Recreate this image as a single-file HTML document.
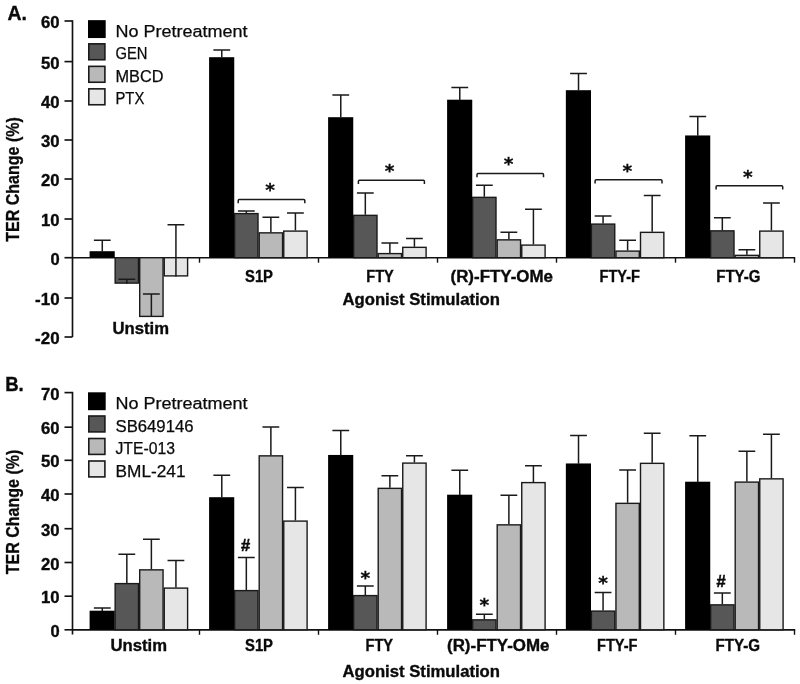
<!DOCTYPE html>
<html><head><meta charset="utf-8"><title>TER Change</title>
<style>
html,body{margin:0;padding:0;background:#fff}
svg{display:block}
text{font-family:"Liberation Sans",sans-serif;fill:#0a0a0a}
.tk,.pl,.yt,.ct{stroke:#0a0a0a;stroke-width:0.35px}
.tk{font-size:16.8px;font-weight:bold}
.lg{font-size:16px}
.pl{font-size:19.5px;font-weight:bold}
.yt{font-size:18.5px;font-weight:bold;stroke:#0a0a0a;stroke-width:0.3px}
.ct{font-size:15.8px;font-weight:bold}
.st{font-family:"DejaVu Sans","Liberation Sans",sans-serif;font-size:18.5px;font-weight:bold;stroke:#0a0a0a;stroke-width:0.3px}
.hs{font-size:16.5px;font-weight:bold;stroke:#0a0a0a;stroke-width:0.5px}
.lg{stroke:#0a0a0a;stroke-width:0.25px}
</style></head><body>
<svg width="800" height="684" viewBox="0 0 800 684">
<rect width="800" height="684" fill="#fff"/>
<path d="M72.5 20.25V337.00" stroke="#111" stroke-width="1.65" fill="none"/>
<path d="M72 257.70H795.2" stroke="#111" stroke-width="1.65" fill="none"/>
<path d="M199.50 257.70v5" stroke="#111" stroke-width="1.4" fill="none"/>
<path d="M318.50 257.70v5" stroke="#111" stroke-width="1.4" fill="none"/>
<path d="M437.50 257.70v5" stroke="#111" stroke-width="1.4" fill="none"/>
<path d="M556.50 257.70v5" stroke="#111" stroke-width="1.4" fill="none"/>
<path d="M675.50 257.70v5" stroke="#111" stroke-width="1.4" fill="none"/>
<path d="M794.50 257.70v5" stroke="#111" stroke-width="1.4" fill="none"/>
<path d="M64.5 337.00H72.5" stroke="#111" stroke-width="1.65" fill="none"/>
<text x="59.6" y="344.00" text-anchor="end" class="tk" textLength="24.5" lengthAdjust="spacingAndGlyphs">-20</text>
<path d="M64.5 298.00H72.5" stroke="#111" stroke-width="1.65" fill="none"/>
<text x="59.6" y="305.00" text-anchor="end" class="tk" textLength="24.5" lengthAdjust="spacingAndGlyphs">-10</text>
<path d="M64.5 257.70H72.5" stroke="#111" stroke-width="1.65" fill="none"/>
<text x="59.6" y="264.70" text-anchor="end" class="tk" textLength="9.2" lengthAdjust="spacingAndGlyphs">0</text>
<path d="M64.5 219.00H72.5" stroke="#111" stroke-width="1.65" fill="none"/>
<text x="59.6" y="226.00" text-anchor="end" class="tk" textLength="18.6" lengthAdjust="spacingAndGlyphs">10</text>
<path d="M64.5 179.00H72.5" stroke="#111" stroke-width="1.65" fill="none"/>
<text x="59.6" y="186.00" text-anchor="end" class="tk" textLength="18.6" lengthAdjust="spacingAndGlyphs">20</text>
<path d="M64.5 140.00H72.5" stroke="#111" stroke-width="1.65" fill="none"/>
<text x="59.6" y="147.00" text-anchor="end" class="tk" textLength="18.6" lengthAdjust="spacingAndGlyphs">30</text>
<path d="M64.5 101.00H72.5" stroke="#111" stroke-width="1.65" fill="none"/>
<text x="59.6" y="108.00" text-anchor="end" class="tk" textLength="18.6" lengthAdjust="spacingAndGlyphs">40</text>
<path d="M64.5 61.60H72.5" stroke="#111" stroke-width="1.65" fill="none"/>
<text x="59.6" y="68.60" text-anchor="end" class="tk" textLength="18.6" lengthAdjust="spacingAndGlyphs">50</text>
<path d="M64.5 21.00H72.5" stroke="#111" stroke-width="1.65" fill="none"/>
<text x="59.6" y="28.00" text-anchor="end" class="tk" textLength="18.6" lengthAdjust="spacingAndGlyphs">60</text>
<rect x="89.60" y="251.20" width="25.150000000000002" height="6.50" fill="#000"/>
<path d="M102.28 251.50V240.25M93.88 240.25H110.68" stroke="#1a1a1a" stroke-width="1.5" fill="none"/>
<rect x="115.15" y="257.70" width="23.35" height="25.40" fill="#575757" stroke="#1a1a1a" stroke-width="1.4"/>
<path d="M126.83 283.70V279.30M118.42 279.30H135.22" stroke="#1a1a1a" stroke-width="1.5" fill="none"/>
<rect x="139.70" y="257.70" width="23.35" height="58.70" fill="#b9b9b9" stroke="#1a1a1a" stroke-width="1.4"/>
<path d="M151.38 317.00V294.00M142.97 294.00H159.78" stroke="#1a1a1a" stroke-width="1.5" fill="none"/>
<rect x="164.25" y="257.70" width="23.35" height="18.20" fill="#e6e6e6" stroke="#1a1a1a" stroke-width="1.4"/>
<path d="M175.93 276.50V224.75M167.53 224.75H184.33" stroke="#1a1a1a" stroke-width="1.5" fill="none"/>
<rect x="209.10" y="57.20" width="25.150000000000002" height="200.50" fill="#000"/>
<path d="M221.78 57.50V50.00M213.38 50.00H230.18" stroke="#1a1a1a" stroke-width="1.5" fill="none"/>
<rect x="234.65" y="213.60" width="23.35" height="44.10" fill="#575757" stroke="#1a1a1a" stroke-width="1.4"/>
<path d="M246.33 213.00V211.00M237.93 211.00H254.73" stroke="#1a1a1a" stroke-width="1.5" fill="none"/>
<rect x="259.20" y="232.85" width="23.35" height="24.85" fill="#b9b9b9" stroke="#1a1a1a" stroke-width="1.4"/>
<path d="M270.88 232.25V217.25M262.48 217.25H279.27" stroke="#1a1a1a" stroke-width="1.5" fill="none"/>
<rect x="283.75" y="231.10" width="23.35" height="26.60" fill="#e6e6e6" stroke="#1a1a1a" stroke-width="1.4"/>
<path d="M295.42 230.50V213.00M287.02 213.00H303.82" stroke="#1a1a1a" stroke-width="1.5" fill="none"/>
<rect x="328.10" y="117.20" width="25.150000000000002" height="140.50" fill="#000"/>
<path d="M340.77 117.50V95.00M332.38 95.00H349.17" stroke="#1a1a1a" stroke-width="1.5" fill="none"/>
<rect x="353.65" y="215.35" width="23.35" height="42.35" fill="#575757" stroke="#1a1a1a" stroke-width="1.4"/>
<path d="M365.32 214.75V193.00M356.93 193.00H373.72" stroke="#1a1a1a" stroke-width="1.5" fill="none"/>
<rect x="378.20" y="253.60" width="23.35" height="4.10" fill="#b9b9b9" stroke="#1a1a1a" stroke-width="1.4"/>
<path d="M389.88 253.00V243.00M381.48 243.00H398.27" stroke="#1a1a1a" stroke-width="1.5" fill="none"/>
<rect x="402.75" y="247.35" width="23.35" height="10.35" fill="#e6e6e6" stroke="#1a1a1a" stroke-width="1.4"/>
<path d="M414.42 246.75V238.50M406.02 238.50H422.82" stroke="#1a1a1a" stroke-width="1.5" fill="none"/>
<rect x="447.10" y="99.70" width="25.150000000000002" height="158.00" fill="#000"/>
<path d="M459.77 100.00V87.50M451.38 87.50H468.17" stroke="#1a1a1a" stroke-width="1.5" fill="none"/>
<rect x="472.65" y="197.35" width="23.35" height="60.35" fill="#575757" stroke="#1a1a1a" stroke-width="1.4"/>
<path d="M484.32 196.75V185.25M475.93 185.25H492.72" stroke="#1a1a1a" stroke-width="1.5" fill="none"/>
<rect x="497.20" y="239.85" width="23.35" height="17.85" fill="#b9b9b9" stroke="#1a1a1a" stroke-width="1.4"/>
<path d="M508.88 239.25V232.25M500.48 232.25H517.27" stroke="#1a1a1a" stroke-width="1.5" fill="none"/>
<rect x="521.75" y="245.10" width="23.35" height="12.60" fill="#e6e6e6" stroke="#1a1a1a" stroke-width="1.4"/>
<path d="M533.42 244.50V209.25M525.02 209.25H541.82" stroke="#1a1a1a" stroke-width="1.5" fill="none"/>
<rect x="565.85" y="90.20" width="25.150000000000002" height="167.50" fill="#000"/>
<path d="M578.52 90.50V73.50M570.12 73.50H586.92" stroke="#1a1a1a" stroke-width="1.5" fill="none"/>
<rect x="591.40" y="224.10" width="23.35" height="33.60" fill="#575757" stroke="#1a1a1a" stroke-width="1.4"/>
<path d="M603.07 223.50V216.00M594.67 216.00H611.47" stroke="#1a1a1a" stroke-width="1.5" fill="none"/>
<rect x="615.95" y="251.10" width="23.35" height="6.60" fill="#b9b9b9" stroke="#1a1a1a" stroke-width="1.4"/>
<path d="M627.62 250.50V240.25M619.23 240.25H636.02" stroke="#1a1a1a" stroke-width="1.5" fill="none"/>
<rect x="640.50" y="232.35" width="23.35" height="25.35" fill="#e6e6e6" stroke="#1a1a1a" stroke-width="1.4"/>
<path d="M652.17 231.75V195.50M643.77 195.50H660.57" stroke="#1a1a1a" stroke-width="1.5" fill="none"/>
<rect x="685.10" y="135.45" width="25.150000000000002" height="122.25" fill="#000"/>
<path d="M697.77 135.75V116.50M689.38 116.50H706.17" stroke="#1a1a1a" stroke-width="1.5" fill="none"/>
<rect x="710.65" y="230.85" width="23.35" height="26.85" fill="#575757" stroke="#1a1a1a" stroke-width="1.4"/>
<path d="M722.32 230.25V217.75M713.92 217.75H730.72" stroke="#1a1a1a" stroke-width="1.5" fill="none"/>
<rect x="735.20" y="255.35" width="23.35" height="2.35" fill="#b9b9b9" stroke="#1a1a1a" stroke-width="1.4"/>
<path d="M746.88 254.75V249.75M738.48 249.75H755.27" stroke="#1a1a1a" stroke-width="1.5" fill="none"/>
<rect x="759.75" y="231.10" width="23.35" height="26.60" fill="#e6e6e6" stroke="#1a1a1a" stroke-width="1.4"/>
<path d="M771.42 230.50V203.00M763.02 203.00H779.82" stroke="#1a1a1a" stroke-width="1.5" fill="none"/>
<path d="M238.2 203.3V200.5Q238.2 199.5 239.2 199.5H303.8Q304.8 199.5 304.8 200.5V203.3" stroke="#1a1a1a" stroke-width="1.5" fill="none"/>
<text x="270" y="196.40" text-anchor="middle" class="st">*</text>
<path d="M358.4 184.05V181.25Q358.4 180.25 359.4 180.25H423.4Q424.4 180.25 424.4 181.25V184.05" stroke="#1a1a1a" stroke-width="1.5" fill="none"/>
<text x="389.5" y="177.30" text-anchor="middle" class="st">*</text>
<path d="M477 177.20000000000002V174.4Q477 173.4 478 173.4H542.5Q543.5 173.4 543.5 174.4V177.20000000000002" stroke="#1a1a1a" stroke-width="1.5" fill="none"/>
<text x="508.6" y="170.40" text-anchor="middle" class="st">*</text>
<path d="M595.1 183.5V180.7Q595.1 179.7 596.1 179.7H661Q662 179.7 662 180.7V183.5" stroke="#1a1a1a" stroke-width="1.5" fill="none"/>
<text x="627.3" y="177.00" text-anchor="middle" class="st">*</text>
<path d="M716.1 189.55V186.75Q716.1 185.75 717.1 185.75H781.7Q782.7 185.75 782.7 186.75V189.55" stroke="#1a1a1a" stroke-width="1.5" fill="none"/>
<text x="747.8" y="182.80" text-anchor="middle" class="st">*</text>
<rect x="88" y="20.15" width="17.7" height="17.9" fill="#000"/>
<text x="115.5" y="36.95" class="lg" textLength="132" lengthAdjust="spacingAndGlyphs">No Pretreatment</text>
<rect x="88.8" y="43.85" width="16.1" height="15.9" fill="#575757" stroke="#1a1a1a" stroke-width="1.6"/>
<text x="115.5" y="59.45" class="lg" textLength="32" lengthAdjust="spacingAndGlyphs">GEN</text>
<rect x="88.8" y="66.35" width="16.1" height="15.9" fill="#b9b9b9" stroke="#1a1a1a" stroke-width="1.6"/>
<text x="115.5" y="81.95" class="lg" textLength="48" lengthAdjust="spacingAndGlyphs">MBCD</text>
<rect x="88.8" y="88.85" width="16.1" height="15.9" fill="#e6e6e6" stroke="#1a1a1a" stroke-width="1.6"/>
<text x="115.5" y="104.45" class="lg" textLength="28.8" lengthAdjust="spacingAndGlyphs">PTX</text>
<rect x="88" y="392.30" width="17.7" height="17.9" fill="#000"/>
<text x="115.5" y="409.10" class="lg" textLength="132" lengthAdjust="spacingAndGlyphs">No Pretreatment</text>
<rect x="88.8" y="416.00" width="16.1" height="15.9" fill="#575757" stroke="#1a1a1a" stroke-width="1.6"/>
<text x="115.5" y="431.60" class="lg" textLength="78" lengthAdjust="spacingAndGlyphs">SB649146</text>
<rect x="88.8" y="438.50" width="16.1" height="15.9" fill="#b9b9b9" stroke="#1a1a1a" stroke-width="1.6"/>
<text x="115.5" y="454.10" class="lg" textLength="59.5" lengthAdjust="spacingAndGlyphs">JTE-013</text>
<rect x="88.8" y="461.00" width="16.1" height="15.9" fill="#e6e6e6" stroke="#1a1a1a" stroke-width="1.6"/>
<text x="115.5" y="476.60" class="lg" textLength="70" lengthAdjust="spacingAndGlyphs">BML-241</text>
<text x="7.6" y="20.4" class="pl" textLength="19.4" lengthAdjust="spacingAndGlyphs">A.</text>
<text x="5.2" y="390.5" class="pl" textLength="18.6" lengthAdjust="spacingAndGlyphs">B.</text>
<text transform="translate(18.8 179.5) rotate(-90)" text-anchor="middle" class="yt" textLength="124.6" lengthAdjust="spacingAndGlyphs">TER Change (%)</text>
<text transform="translate(18.8 512) rotate(-90)" text-anchor="middle" class="yt" textLength="124.6" lengthAdjust="spacingAndGlyphs">TER Change (%)</text>
<text x="112.5" y="333.7" class="ct" textLength="56.5" lengthAdjust="spacingAndGlyphs">Unstim</text>
<text x="245" y="281.5" class="ct" textLength="28" lengthAdjust="spacingAndGlyphs">S1P</text>
<text x="366.25" y="281.5" class="ct" textLength="27.5" lengthAdjust="spacingAndGlyphs">FTY</text>
<text x="450.5" y="281.5" class="ct" textLength="102.5" lengthAdjust="spacingAndGlyphs">(R)-FTY-OMe</text>
<text x="599.5" y="281.5" class="ct" textLength="40.5" lengthAdjust="spacingAndGlyphs">FTY-F</text>
<text x="716.25" y="281.5" class="ct" textLength="44.25" lengthAdjust="spacingAndGlyphs">FTY-G</text>
<text x="110.5" y="651.4" class="ct" textLength="56.5" lengthAdjust="spacingAndGlyphs">Unstim</text>
<text x="245" y="651.4" class="ct" textLength="28" lengthAdjust="spacingAndGlyphs">S1P</text>
<text x="365.5" y="651.4" class="ct" textLength="27.5" lengthAdjust="spacingAndGlyphs">FTY</text>
<text x="447" y="651.4" class="ct" textLength="102.5" lengthAdjust="spacingAndGlyphs">(R)-FTY-OMe</text>
<text x="597" y="651.4" class="ct" textLength="40.5" lengthAdjust="spacingAndGlyphs">FTY-F</text>
<text x="715.5" y="651.4" class="ct" textLength="44.5" lengthAdjust="spacingAndGlyphs">FTY-G</text>
<text x="342.5" y="304.5" class="ct" textLength="157.5" lengthAdjust="spacingAndGlyphs">Agonist Stimulation</text>
<text x="342.5" y="676.5" class="ct" textLength="157.5" lengthAdjust="spacingAndGlyphs">Agonist Stimulation</text>
<path d="M72.5 391.85V634.50" stroke="#111" stroke-width="1.65" fill="none"/>
<path d="M72 629.80H795.2" stroke="#111" stroke-width="1.65" fill="none"/>
<path d="M199.50 629.80v5" stroke="#111" stroke-width="1.4" fill="none"/>
<path d="M318.50 629.80v5" stroke="#111" stroke-width="1.4" fill="none"/>
<path d="M437.50 629.80v5" stroke="#111" stroke-width="1.4" fill="none"/>
<path d="M556.50 629.80v5" stroke="#111" stroke-width="1.4" fill="none"/>
<path d="M675.50 629.80v5" stroke="#111" stroke-width="1.4" fill="none"/>
<path d="M794.50 629.80v5" stroke="#111" stroke-width="1.4" fill="none"/>
<path d="M64.5 629.80H72.5" stroke="#111" stroke-width="1.65" fill="none"/>
<text x="59.6" y="636.80" text-anchor="end" class="tk" textLength="9.2" lengthAdjust="spacingAndGlyphs">0</text>
<path d="M64.5 596.20H72.5" stroke="#111" stroke-width="1.65" fill="none"/>
<text x="59.6" y="603.20" text-anchor="end" class="tk" textLength="18.6" lengthAdjust="spacingAndGlyphs">10</text>
<path d="M64.5 562.50H72.5" stroke="#111" stroke-width="1.65" fill="none"/>
<text x="59.6" y="569.50" text-anchor="end" class="tk" textLength="18.6" lengthAdjust="spacingAndGlyphs">20</text>
<path d="M64.5 528.70H72.5" stroke="#111" stroke-width="1.65" fill="none"/>
<text x="59.6" y="535.70" text-anchor="end" class="tk" textLength="18.6" lengthAdjust="spacingAndGlyphs">30</text>
<path d="M64.5 494.00H72.5" stroke="#111" stroke-width="1.65" fill="none"/>
<text x="59.6" y="501.00" text-anchor="end" class="tk" textLength="18.6" lengthAdjust="spacingAndGlyphs">40</text>
<path d="M64.5 460.30H72.5" stroke="#111" stroke-width="1.65" fill="none"/>
<text x="59.6" y="467.30" text-anchor="end" class="tk" textLength="18.6" lengthAdjust="spacingAndGlyphs">50</text>
<path d="M64.5 427.20H72.5" stroke="#111" stroke-width="1.65" fill="none"/>
<text x="59.6" y="434.20" text-anchor="end" class="tk" textLength="18.6" lengthAdjust="spacingAndGlyphs">60</text>
<path d="M64.5 392.60H72.5" stroke="#111" stroke-width="1.65" fill="none"/>
<text x="59.6" y="399.60" text-anchor="end" class="tk" textLength="18.6" lengthAdjust="spacingAndGlyphs">70</text>
<rect x="89.60" y="610.70" width="25.150000000000002" height="19.10" fill="#000"/>
<path d="M102.28 611.00V608.00M93.88 608.00H110.68" stroke="#1a1a1a" stroke-width="1.5" fill="none"/>
<rect x="115.15" y="583.60" width="23.35" height="46.20" fill="#575757" stroke="#1a1a1a" stroke-width="1.4"/>
<path d="M126.83 583.00V554.25M118.42 554.25H135.22" stroke="#1a1a1a" stroke-width="1.5" fill="none"/>
<rect x="139.70" y="569.85" width="23.35" height="59.95" fill="#b9b9b9" stroke="#1a1a1a" stroke-width="1.4"/>
<path d="M151.38 569.25V539.25M142.97 539.25H159.78" stroke="#1a1a1a" stroke-width="1.5" fill="none"/>
<rect x="164.25" y="588.10" width="23.35" height="41.70" fill="#e6e6e6" stroke="#1a1a1a" stroke-width="1.4"/>
<path d="M175.93 587.50V560.50M167.53 560.50H184.33" stroke="#1a1a1a" stroke-width="1.5" fill="none"/>
<rect x="209.10" y="497.20" width="25.150000000000002" height="132.60" fill="#000"/>
<path d="M221.78 497.50V475.25M213.38 475.25H230.18" stroke="#1a1a1a" stroke-width="1.5" fill="none"/>
<rect x="234.65" y="590.60" width="23.35" height="39.20" fill="#575757" stroke="#1a1a1a" stroke-width="1.4"/>
<path d="M246.33 590.00V557.50M237.93 557.50H254.73" stroke="#1a1a1a" stroke-width="1.5" fill="none"/>
<rect x="259.20" y="455.85" width="23.35" height="173.95" fill="#b9b9b9" stroke="#1a1a1a" stroke-width="1.4"/>
<path d="M270.88 455.25V427.00M262.48 427.00H279.27" stroke="#1a1a1a" stroke-width="1.5" fill="none"/>
<rect x="283.75" y="521.10" width="23.35" height="108.70" fill="#e6e6e6" stroke="#1a1a1a" stroke-width="1.4"/>
<path d="M295.42 520.50V487.50M287.02 487.50H303.82" stroke="#1a1a1a" stroke-width="1.5" fill="none"/>
<rect x="328.10" y="454.95" width="25.150000000000002" height="174.85" fill="#000"/>
<path d="M340.77 455.25V430.50M332.38 430.50H349.17" stroke="#1a1a1a" stroke-width="1.5" fill="none"/>
<rect x="353.65" y="595.60" width="23.35" height="34.20" fill="#575757" stroke="#1a1a1a" stroke-width="1.4"/>
<path d="M365.32 595.00V586.00M356.93 586.00H373.72" stroke="#1a1a1a" stroke-width="1.5" fill="none"/>
<rect x="378.20" y="488.35" width="23.35" height="141.45" fill="#b9b9b9" stroke="#1a1a1a" stroke-width="1.4"/>
<path d="M389.88 487.75V475.75M381.48 475.75H398.27" stroke="#1a1a1a" stroke-width="1.5" fill="none"/>
<rect x="402.75" y="463.10" width="23.35" height="166.70" fill="#e6e6e6" stroke="#1a1a1a" stroke-width="1.4"/>
<path d="M414.42 462.50V455.75M406.02 455.75H422.82" stroke="#1a1a1a" stroke-width="1.5" fill="none"/>
<rect x="447.10" y="494.70" width="25.150000000000002" height="135.10" fill="#000"/>
<path d="M459.77 495.00V470.25M451.38 470.25H468.17" stroke="#1a1a1a" stroke-width="1.5" fill="none"/>
<rect x="472.65" y="619.85" width="23.35" height="9.95" fill="#575757" stroke="#1a1a1a" stroke-width="1.4"/>
<path d="M484.32 619.25V614.25M475.93 614.25H492.72" stroke="#1a1a1a" stroke-width="1.5" fill="none"/>
<rect x="497.20" y="524.85" width="23.35" height="104.95" fill="#b9b9b9" stroke="#1a1a1a" stroke-width="1.4"/>
<path d="M508.88 524.25V495.25M500.48 495.25H517.27" stroke="#1a1a1a" stroke-width="1.5" fill="none"/>
<rect x="521.75" y="482.60" width="23.35" height="147.20" fill="#e6e6e6" stroke="#1a1a1a" stroke-width="1.4"/>
<path d="M533.42 482.00V465.75M525.02 465.75H541.82" stroke="#1a1a1a" stroke-width="1.5" fill="none"/>
<rect x="565.85" y="463.45" width="25.150000000000002" height="166.35" fill="#000"/>
<path d="M578.52 463.75V435.50M570.12 435.50H586.92" stroke="#1a1a1a" stroke-width="1.5" fill="none"/>
<rect x="591.40" y="611.10" width="23.35" height="18.70" fill="#575757" stroke="#1a1a1a" stroke-width="1.4"/>
<path d="M603.07 610.50V592.50M594.67 592.50H611.47" stroke="#1a1a1a" stroke-width="1.5" fill="none"/>
<rect x="615.95" y="503.35" width="23.35" height="126.45" fill="#b9b9b9" stroke="#1a1a1a" stroke-width="1.4"/>
<path d="M627.62 502.75V470.00M619.23 470.00H636.02" stroke="#1a1a1a" stroke-width="1.5" fill="none"/>
<rect x="640.50" y="463.35" width="23.35" height="166.45" fill="#e6e6e6" stroke="#1a1a1a" stroke-width="1.4"/>
<path d="M652.17 462.75V433.25M643.77 433.25H660.57" stroke="#1a1a1a" stroke-width="1.5" fill="none"/>
<rect x="685.10" y="481.70" width="25.150000000000002" height="148.10" fill="#000"/>
<path d="M697.77 482.00V435.75M689.38 435.75H706.17" stroke="#1a1a1a" stroke-width="1.5" fill="none"/>
<rect x="710.65" y="604.85" width="23.35" height="24.95" fill="#575757" stroke="#1a1a1a" stroke-width="1.4"/>
<path d="M722.32 604.25V593.00M713.92 593.00H730.72" stroke="#1a1a1a" stroke-width="1.5" fill="none"/>
<rect x="735.20" y="482.10" width="23.35" height="147.70" fill="#b9b9b9" stroke="#1a1a1a" stroke-width="1.4"/>
<path d="M746.88 481.50V451.25M738.48 451.25H755.27" stroke="#1a1a1a" stroke-width="1.5" fill="none"/>
<rect x="759.75" y="478.85" width="23.35" height="150.95" fill="#e6e6e6" stroke="#1a1a1a" stroke-width="1.4"/>
<path d="M771.42 478.25V434.25M763.02 434.25H779.82" stroke="#1a1a1a" stroke-width="1.5" fill="none"/>
<text x="245.5" y="550.5" text-anchor="middle" class="hs">#</text>
<text x="365.4" y="584.20" text-anchor="middle" class="st">*</text>
<text x="484.4" y="611.20" text-anchor="middle" class="st">*</text>
<text x="603" y="589.20" text-anchor="middle" class="st">*</text>
<text x="721.1" y="586.6" text-anchor="middle" class="hs">#</text>
</svg>
</body></html>
